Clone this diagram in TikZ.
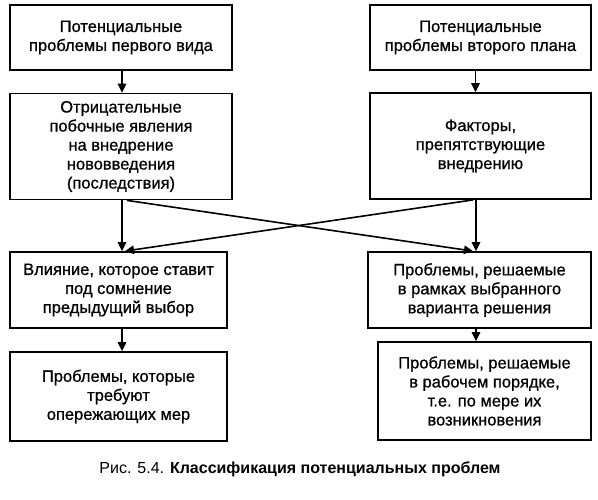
\documentclass[tikz,border=0pt]{standalone}
\usepackage{fontspec}
\setmainfont{Liberation Sans}
\usetikzlibrary{arrows.meta,calc}
\begin{document}
\begin{tikzpicture}[x=1pt,y=-1pt,
  box/.style={draw,line width=1.8pt,rectangle,align=center,inner sep=2pt,
    font=\fontsize{16.5}{19}\selectfont\addfontfeatures{FakeBold=0.8}},
  arr/.style={line width=1.6pt,-{Triangle[length=9pt,width=8.5pt]}}]
\useasboundingbox (0,0) rectangle (598,500);
\node[box,minimum width=222pt,minimum height=65pt] (A) at (121,37.5) {Потенциальные\\проблемы первого вида};
\node[box,minimum width=222pt,minimum height=106pt] (B) at (121,146.5) {Отрицательные\\побочные явления\\на внедрение\\нововведения\\(последствия)};
\node[box,minimum width=221pt,minimum height=65pt] (C) at (480.5,37.5) {Потенциальные\\проблемы второго плана};
\node[box,minimum width=221pt,minimum height=106pt] (D) at (480.5,146) {Факторы,\\препятствующие\\внедрению};
\node[box,minimum width=217pt,minimum height=76pt] (E) at (118.5,290) {Влияние, которое ставит\\под сомнение\\предыдущий выбор};
\node[box,minimum width=217pt,minimum height=89pt] (F) at (118.5,396.5) {Проблемы, которые\\требуют\\опережающих мер};
\node[box,minimum width=223pt,minimum height=76pt] (G) at (479.5,290) {Проблемы, решаемые\\в рамках выбранного\\варианта решения};
\node[box,minimum width=213pt,minimum height=98pt] (H) at (484.5,391) {Проблемы, решаемые\\в рабочем порядке,\\т.е. по мере их\\возникновения};
\node[font=\fontsize{16}{19}\selectfont] (cap) at (300,469) {Рис. 5.4. \textbf{Классификация потенциальных проблем}};
% anchor points
\coordinate (a1) at ($(A.south)+(1,0)$);
\coordinate (b0) at (a1 |- B.north);
\coordinate (c1) at ($(C.south)+(-5,0)$);
\coordinate (d0) at (c1 |- D.north);
\coordinate (b1) at ($(B.south)+(1,0)$);
\coordinate (e0) at (b1 |- E.north);
\coordinate (d1) at ($(D.south)+(-4.5,0)$);
\coordinate (g0) at (d1 |- G.north);
\coordinate (e1) at ($(E.south)+(3.5,0)$);
\coordinate (f0) at (e1 |- F.north);
\coordinate (g1) at ($(G.south)+(-3.5,0)$);
\coordinate (h0) at (g1 |- H.north);
\coordinate (bx) at ($(B.south)+(6,0)$);
\coordinate (gx) at ($(G.north)+(-6.5,0)$);
\coordinate (dx) at ($(D.south)+(-7.5,0)$);
\coordinate (ex) at ($(E.north)+(6.5,0)$);
\draw[arr] (a1) -- (b0);
\draw[arr] (c1) -- (d0);
\draw[arr] (b1) -- (e0);
\draw[arr] (d1) -- (g0);
\draw[arr] (e1) -- (f0);
\draw[arr] (g1) -- (h0);
\draw[arr] (bx) -- (gx);
\draw[arr] (dx) -- (ex);
\end{tikzpicture}
\end{document}
